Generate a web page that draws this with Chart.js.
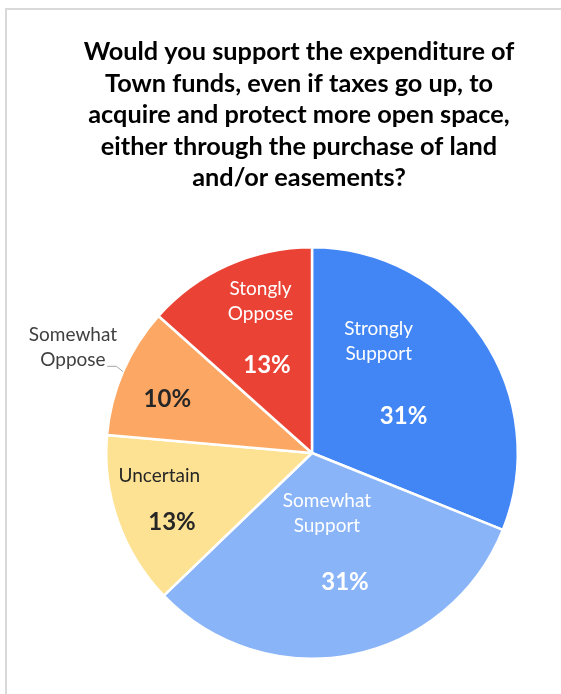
<!DOCTYPE html>
<html>
<head>
<meta charset="utf-8">
<script src="https://cdn.jsdelivr.net/npm/chart.js@4.4.1/dist/chart.umd.min.js"></script>
<style>
  html, body { margin: 0; padding: 0; background: #fff; }
  #wrap { position: relative; width: 561px; height: 694px; overflow: hidden; }
  #frame { position: absolute; left: 5px; top: 8px; width: 600px; height: 720px;
           border-left: 2px solid #d9d9d9; border-top: 2px solid #d9d9d9; pointer-events: none; }
  canvas { position: absolute; left: 0; top: 0; }
</style>
</head>
<body>
<div id="wrap">
  <canvas id="chart" width="561" height="694"></canvas>
  <div id="frame"></div>
</div>
<script>
// chart data
const titleLines = [
    'Would you support the expenditure of',
    'Town funds, even if taxes go up, to',
    'acquire and protect more open space,',
    'either through the purchase of land',
    'and/or easements?'
];
const categories = [
    ['Strongly', 'Support'],
    ['Somewhat', 'Support'],
    ['Uncertain'],
    ['Somewhat', 'Oppose'],
    ['Stongly', 'Oppose']
];
const shares = [31.1, 31.7, 13.6, 10.2, 13.4];

const sliceColors = ['#4285f4', '#8ab4f8', '#fde293', '#fca864', '#ea4335'];
const textColors = ['#ffffff', '#ffffff', '#262626', '#262626', '#ffffff'];

// where each label sits: angle offset (deg) from slice middle, radius fraction
const labelPlacement = [
    { name: [-25, 0.63], pct: [12, 0.48] },
    { name: [-3, 0.30], pct: [-3.3, 0.65] },
    { name: [11, 0.75], pct: [-7, 0.76] },
    { name: [0.4, 1.27], pct: [-3, 0.75], outside: true },
    { name: [5.3, 0.776], pct: [-3, 0.48] }
];

const FONT = 'Lato, "Open Sans", sans-serif';

// Title drawn by hand so it can sit a bit left of the pie centre
const titlePlugin = {
    id: 'titleLines',
    afterDraw(chart) {
        const ctx = chart.ctx;
        ctx.save();
        ctx.fillStyle = '#000';
        ctx.font = 'bold 25.3px ' + FONT;
        ctx.textAlign = 'center';
        ctx.textBaseline = 'middle';
        titleLines.forEach((line, i) => ctx.fillText(line, 299, 52 + i * 31.5));
        ctx.restore();
    }
};

// Category names and percentages on the slices
const sliceLabels = {
    id: 'sliceLabels',
    afterDatasetsDraw(chart) {
        const ctx = chart.ctx;
        const meta = chart.getDatasetMeta(0);
        const values = chart.data.datasets[0].data;
        const total = values.reduce((a, b) => a + b, 0);

        meta.data.forEach((arc, i) => {
            const p = arc.getProps(['x', 'y', 'startAngle', 'endAngle', 'outerRadius'], true);
            const mid = (p.startAngle + p.endAngle) / 2;
            const at = (deg, frac) => {
                const a = mid + deg * Math.PI / 180;
                return [p.x + Math.cos(a) * p.outerRadius * frac, p.y + Math.sin(a) * p.outerRadius * frac];
            };
            const place = labelPlacement[i];
            const lines = chart.data.labels[i];

            ctx.save();
            ctx.textAlign = 'center';
            ctx.textBaseline = 'middle';

            // name
            const [nx, ny] = at(place.name[0], place.name[1]);
            ctx.font = '19px ' + FONT;
            ctx.fillStyle = place.outside ? '#404040' : textColors[i];
            const lh = 25;
            lines.forEach((ln, k) => {
                ctx.fillText(ln, nx, ny + (k - (lines.length - 1) / 2) * lh);
            });

            // leader line for the outside label
            if (place.outside) {
                const [ex, ey] = at(-0.1, 1.0);
                const [bx, by] = at(0.5, 1.04);
                ctx.strokeStyle = '#a6a6a6';
                ctx.lineWidth = 1;
                ctx.beginPath();
                ctx.moveTo(ex, ey);
                ctx.lineTo(bx, by);
                ctx.lineTo(bx - 9, by);
                ctx.stroke();
            }

            // percentage
            const [px, py] = at(place.pct[0], place.pct[1]);
            ctx.font = 'bold 24px ' + FONT;
            ctx.fillStyle = textColors[i];
            ctx.fillText(Math.floor(values[i] / total * 100) + '%', px, py);
            ctx.restore();
        });
    }
};

new Chart(document.getElementById('chart'), {
    type: 'pie',
    data: {
        labels: categories,
        datasets: [{
            data: shares,
            backgroundColor: sliceColors,
            borderColor: '#ffffff',
            borderWidth: 2.5,
            hoverOffset: 0
        }]
    },
    options: {
        responsive: false,
        animation: false,
        layout: { padding: { left: 105, right: 42, top: 246, bottom: 34 } },
        plugins: {
            legend: { display: false },
            title: { display: false },
            tooltip: { enabled: false }
        }
    },
    plugins: [titlePlugin, sliceLabels]
});
</script>
</body>
</html>
